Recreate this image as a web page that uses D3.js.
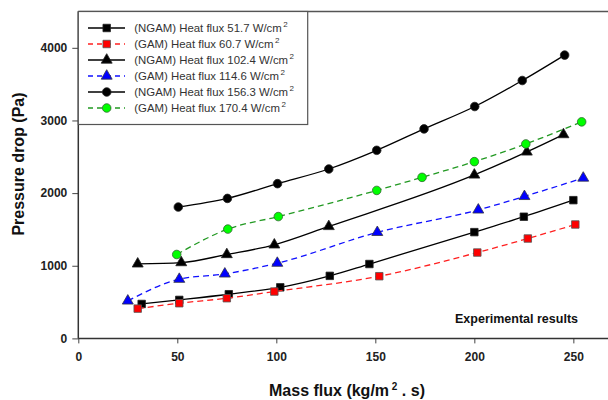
<!DOCTYPE html>
<html>
<head>
<meta charset="utf-8">
<script src="https://cdn.jsdelivr.net/npm/d3@7"></script>
<style>
  body { margin: 0; background: #fff; }
  svg { display: block; font-family: Arial, "Liberation Sans", sans-serif; }
</style>
</head>
<body>
<svg class="pressureChart"></svg>
<script>
// pressure drop vs mass flux
const xTicks = [0, 50, 100, 150, 200, 250]
const yTicks = [0, 1000, 2000, 3000, 4000]

const ngam517X = [32, 51, 76, 102, 127, 147, 200, 225, 250]
const ngam517Y = [474, 530, 608, 703, 861, 1024, 1463, 1675, 1903]

const gam607X = [30, 51, 75, 99, 152, 201.5, 227, 251]
const gam607Y = [410, 484, 553, 645, 856, 1182, 1375, 1568]

const ngam1024X = [30, 52, 75, 99, 126.5, 200, 226.5, 245]
const ngam1024Y = [1026, 1044, 1155, 1288, 1541, 2250, 2567, 2806]

const gam1146X = [25, 51, 74, 100.5, 151, 202, 225.3, 255]
const gam1146Y = [516, 815, 888, 1036, 1460, 1769, 1955, 2208]

const ngam1563X = [50.5, 75.3, 100.6, 126.5, 150.7, 174.6, 200.2, 224.2, 245.6]
const ngam1563Y = [1808, 1927, 2130, 2332, 2589, 2884, 3192, 3550, 3900]

const gam1704X = [49.7, 75.5, 101, 150.7, 173.6, 200, 226, 254.2]
const gam1704Y = [1155, 1505, 1677, 2037, 2217, 2433, 2677, 2981]

const seriesLabels = [
    "(NGAM) Heat flux 51.7 W/cm",
    "(GAM) Heat flux 60.7 W/cm",
    "(NGAM) Heat flux 102.4 W/cm",
    "(GAM) Heat flux 114.6 W/cm",
    "(NGAM) Heat flux 156.3 W/cm",
    "(GAM) Heat flux 170.4 W/cm"
]

// styling per series (kept apart from the values)
const series = [
    { xs: ngam517X,  ys: ngam517Y,  line: "#000", dash: null,  shape: "square",   fill: "#000",    stroke: "#222" },
    { xs: gam607X,   ys: gam607Y,   line: "#ff2020", dash: "6,4", shape: "square", fill: "#ff0000", stroke: "#555" },
    { xs: ngam1024X, ys: ngam1024Y, line: "#000", dash: null,  shape: "triangle", fill: "#000",    stroke: "#222" },
    { xs: gam1146X,  ys: gam1146Y,  line: "#1010ff", dash: "6,4", shape: "triangle", fill: "#0000ff", stroke: "#334" },
    { xs: ngam1563X, ys: ngam1563Y, line: "#000", dash: null,  shape: "circle",   fill: "#000",    stroke: "#222" },
    { xs: gam1704X,  ys: gam1704Y,  line: "#229922", dash: "6,4", shape: "circle", fill: "#00ff00", stroke: "#336633" }
]

const width = 608, height = 400
const plotLeft = 78.3, plotRight = 608, plotTop = 11.5, plotBottom = 338.4

const x = d3.scaleLinear().domain([0, 267.5]).range([plotLeft, plotRight])
const y = d3.scaleLinear().domain([0, 4500]).range([plotBottom, plotTop])

const svg = d3.select("svg.pressureChart")
    .attr("width", width)
    .attr("height", height)
    .attr("viewBox", [0, 0, width, height])

const symbolFor = {
    square: d3.symbol(d3.symbolSquare, 56),
    triangle: d3.symbol(d3.symbolTriangle, 52),
    circle: d3.symbol(d3.symbolCircle, 58)
}

function drawAxes() {
    const xAxis = svg.append("g")
        .attr("transform", `translate(0,${plotBottom})`)
        .call(d3.axisBottom(x).tickValues(xTicks).tickFormat(d3.format("d")).tickSize(5).tickPadding(9))
    const yAxis = svg.append("g")
        .attr("transform", `translate(${plotLeft},0)`)
        .call(d3.axisLeft(y).tickValues(yTicks).tickFormat(d3.format("d")).tickSize(6).tickPadding(5))
    for (const g of [xAxis, yAxis]) {
        g.select(".domain").remove()
        g.selectAll(".tick line").attr("stroke", "#444").attr("stroke-width", 1)
        g.selectAll(".tick text")
            .attr("fill", "#222")
            .style("font-size", "12px")
            .style("font-weight", "bold")
            .style("font-family", "Arial, 'Liberation Sans', sans-serif")
    }
    // frame lines: left, bottom and the top border
    svg.append("line").attr("x1", plotLeft).attr("x2", plotRight).attr("y1", plotBottom).attr("y2", plotBottom)
        .attr("stroke", "#333").attr("stroke-width", 1.5)
    svg.append("line").attr("x1", plotLeft).attr("x2", plotLeft).attr("y1", plotTop).attr("y2", plotBottom)
        .attr("stroke", "#333").attr("stroke-width", 1.5)
    svg.append("line").attr("x1", plotLeft).attr("x2", plotRight).attr("y1", plotTop).attr("y2", plotTop)
        .attr("stroke", "#555").attr("stroke-width", 1.3)

    const xTitle = svg.append("text")
        .attr("x", 347).attr("y", 396)
        .attr("text-anchor", "middle")
        .attr("fill", "#111")
        .style("font-size", "16px").style("font-weight", "bold")
    xTitle.append("tspan").text("Mass flux (kg/m")
    xTitle.append("tspan").attr("dy", -6).style("font-size", "10px").text(" 2")
    xTitle.append("tspan").attr("dy", 6).text(" . s)")

    svg.append("text")
        .attr("transform", "translate(24,164) rotate(-90)")
        .attr("text-anchor", "middle")
        .attr("fill", "#111")
        .style("font-size", "16px").style("font-weight", "bold")
        .text("Pressure drop (Pa)")

    svg.append("text")
        .attr("x", 578).attr("y", 323)
        .attr("text-anchor", "end")
        .attr("fill", "#111")
        .style("font-size", "12.5px").style("font-weight", "bold")
        .text("Experimental results")
}

function drawSeries() {
    const line = d3.line()
        .x(d => x(d[0]))
        .y(d => y(d[1]))
        .curve(d3.curveMonotoneX)
    series.forEach(s => {
        const pts = s.xs.map((v, i) => [v, s.ys[i]])
        svg.append("path")
            .datum(pts)
            .attr("fill", "none")
            .attr("stroke", s.line)
            .attr("stroke-width", 1.3)
            .attr("stroke-dasharray", s.dash)
            .attr("d", line)
        svg.append("g")
            .selectAll("path")
            .data(pts)
            .join("path")
            .attr("transform", d => `translate(${x(d[0])},${y(d[1])})`)
            .attr("d", symbolFor[s.shape])
            .attr("fill", s.fill)
            .attr("stroke", s.stroke)
            .attr("stroke-width", 0.8)
    })
}

function drawLegend() {
    const box = svg.append("g")
    box.append("rect")
        .attr("x", plotLeft).attr("y", plotTop)
        .attr("width", 307.7 - plotLeft).attr("height", 124.5 - plotTop)
        .attr("fill", "#fff")
        .attr("stroke", "#555").attr("stroke-width", 1.2)
    seriesLabels.forEach((label, i) => {
        const s = series[i]
        const cy = 28 + i * 16
        box.append("line")
            .attr("x1", 88).attr("x2", 125).attr("y1", cy).attr("y2", cy)
            .attr("stroke", s.line).attr("stroke-width", 1.3)
            .attr("stroke-dasharray", s.dash ? "5,4" : null)
        box.append("path")
            .attr("transform", `translate(106.7,${cy})`)
            .attr("d", symbolFor[s.shape])
            .attr("fill", s.fill)
            .attr("stroke", s.stroke)
            .attr("stroke-width", 0.8)
        const t = box.append("text")
            .attr("x", 134.3).attr("y", cy + 4)
            .attr("fill", "#333")
            .style("font-size", "11.4px")
        t.append("tspan").text(label)
        t.append("tspan").attr("dy", -5).attr("dx", 1.5).style("font-size", "8px").text("2")
    })
}

drawSeries()
drawAxes()
drawLegend()
</script>
</body>
</html>
